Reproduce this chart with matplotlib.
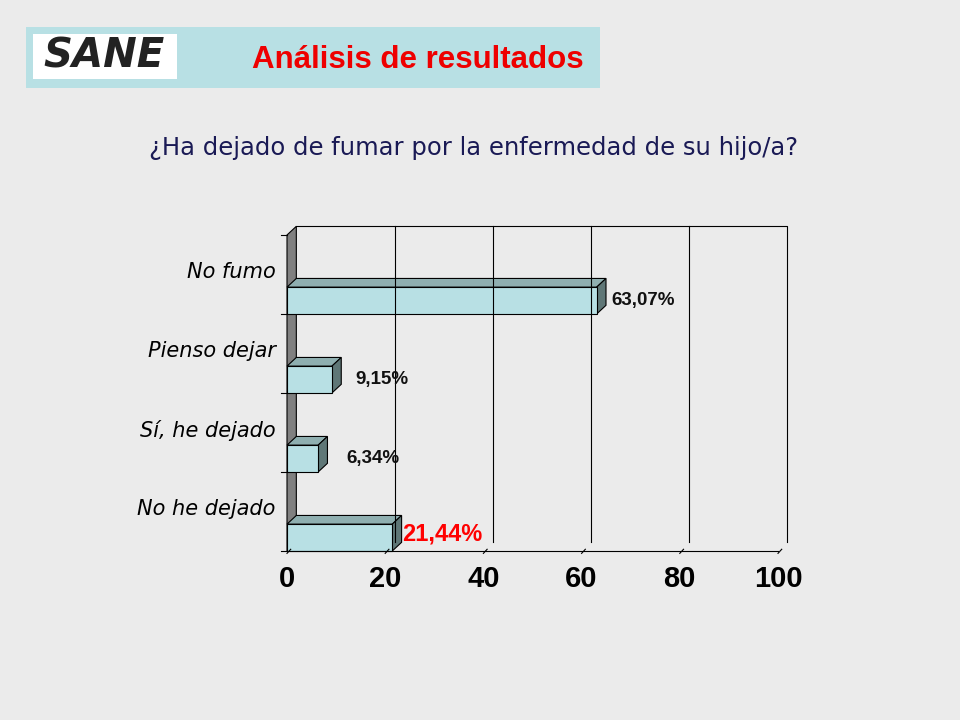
import matplotlib.pyplot as plt
from matplotlib.patches import Polygon, Rectangle

categories = ['No he dejado', 'Sí, he dejado', 'Pienso dejar', 'No fumo']
values = [21.44, 6.34, 9.15, 63.07]
value_labels = ['21,44%', '6,34%', '9,15%', '63,07%']
label_colors = ['#FF0000', '#111111', '#111111', '#111111']
xticks = [0, 20, 40, 60, 80, 100]

bg = '#EBEBEB'
front = '#B8E0E4'
top = '#8FAFB0'
side = '#5F7777'
dx, dy = 1.9, 0.11
bh = 0.34
label_gap = [2.1, 5.7, 4.7, 2.9]

fig = plt.figure(figsize=(9.6, 7.2), dpi=100, facecolor=bg)

# header
fig.patches.append(Rectangle((26/960, 1-88/720), 574/960, 61/720, transform=fig.transFigure,
                             facecolor='#B8E0E4', edgecolor='none'))
fig.patches.append(Rectangle((33/960, 1-79/720), 144/960, 45/720, transform=fig.transFigure,
                             facecolor='white', edgecolor='none'))
fig.text(104/960, 1-57/720, 'SANE', fontsize=29, fontweight='black', style='italic',
         ha='center', va='center', color='#222222')
fig.text(418/960, 1-60/720, 'Análisis de resultados', fontsize=22.5, fontweight='bold',
         color='#EE0000', ha='center', va='center', family='Liberation Sans')
fig.text(474/960, 1-148/720, '¿Ha dejado de fumar por la enfermedad de su hijo/a?',
         fontsize=17.5, color='#1A1A55', ha='center', va='center')

ax = fig.add_axes([287/960, 1-551/720, 491/960, 316/720])
ax.set_xlim(0, 100)
ax.set_ylim(0, 4)
ax.set_facecolor('none')
ax.axis('off')

# left wall
ax.add_patch(Polygon([(0, 0), (dx, dy), (dx, 4 + dy), (0, 4)], closed=True,
                     facecolor='#808080', edgecolor='black', lw=0.8, clip_on=False))
# back frame and gridlines
ax.plot([dx, 100 + dx, 100 + dx], [4 + dy, 4 + dy, dy], color='black', lw=0.8, clip_on=False)
for x in xticks[1:-1]:
    ax.plot([x + dx, x + dx], [dy, 4 + dy], color='black', lw=0.8, clip_on=False)
# floor
ax.plot([0, 100], [0, 0], color='black', lw=0.8, clip_on=False)
for x in xticks:
    ax.plot([x, x + dx * 0.4], [-0.03, dy * 0.2], color='black', lw=0.8, clip_on=False)
    ax.text(x, -0.35, str(x), ha='center', va='center', fontsize=21, fontweight='bold',
            family='Liberation Sans')
# category ticks
for i in range(5):
    ax.plot([-1.2, 0], [i, i], color='black', lw=0.8, clip_on=False)

for i, (cat, v, lab, c) in enumerate(zip(categories, values, value_labels, label_colors)):
    y0 = i
    ax.add_patch(Polygon([(0, y0 + bh), (dx, y0 + bh + dy), (v + dx, y0 + bh + dy), (v, y0 + bh)],
                         facecolor=top, edgecolor='black', lw=0.8, clip_on=False))
    ax.add_patch(Polygon([(v, y0), (v + dx, y0 + dy), (v + dx, y0 + bh + dy), (v, y0 + bh)],
                         facecolor=side, edgecolor='black', lw=0.8, clip_on=False))
    ax.barh(y0, v, height=bh, align='edge', color=front, edgecolor='black', lw=0.8, clip_on=False)
    big = i == 0
    ax.text(v + label_gap[i], y0 + bh / 2 + (0.04 if big else 0), lab,
            ha='left', va='center', color=c, fontsize=17 if big else 13.5, fontweight='bold',
            family='Liberation Sans')
    ax.text(-2.3, y0 + 0.5 + 0.03, cat, ha='right', va='center', fontsize=15, style='italic')

fig.savefig('out.png', dpi=100, facecolor=bg)
